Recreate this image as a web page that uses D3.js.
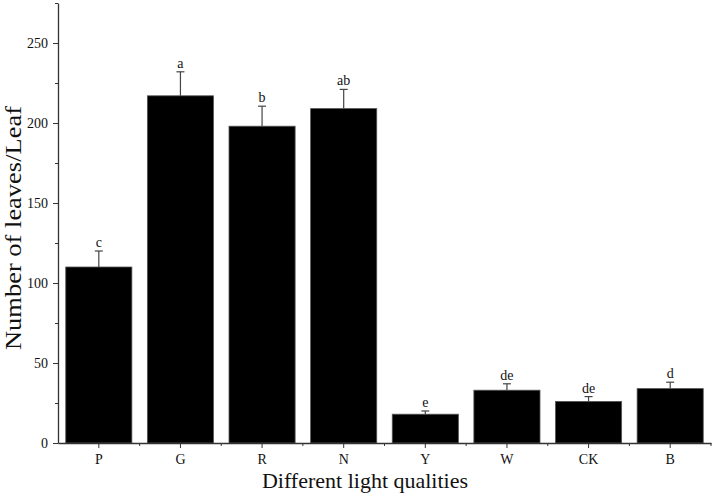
<!DOCTYPE html>
<html>
<head>
<meta charset="utf-8">
<script src="https://cdn.jsdelivr.net/npm/d3@7"></script>
<style>
  body { margin: 0; background: #fff; }
  svg text { font-family: "Liberation Serif", "Times New Roman", serif; fill: #111; }
</style>
</head>
<body>
<svg id="chart-svg" width="715" height="497"></svg>
<script>
// data
var categories = ["P", "G", "R", "N", "Y", "W", "CK", "B"];
var means = [110, 217, 198, 209, 18, 33, 26, 34];
var errors = [10, 15, 12.5, 12, 2, 4, 3, 4];
var letters = ["c", "a", "b", "ab", "e", "de", "de", "d"];
var yTicks = [0, 50, 100, 150, 200, 250];
var yMinorTicks = [25, 75, 125, 175, 225, 275];

var svg = d3.select("#chart-svg");

var x = d3.scaleBand()
    .domain(categories)
    .range([58, 711])
    .paddingInner(0.19)
    .paddingOuter(0.095);

var y = d3.scaleLinear()
    .domain([0, 275])
    .range([443, 3]);

// bars
svg.selectAll(".bar")
    .data(categories)
    .enter()
    .append("rect")
    .attr("class", "bar")
    .attr("x", d => x(d))
    .attr("width", x.bandwidth())
    .attr("y", (d, i) => y(means[i]))
    .attr("height", (d, i) => y(0) - y(means[i]))
    .attr("fill", "#000")
    .attr("stroke", "#555")
    .attr("stroke-width", 0.8);

// error bars (upper only)
var err = svg.selectAll(".err")
    .data(categories)
    .enter()
    .append("g")
    .attr("class", "err")
    .attr("stroke", "#444")
    .attr("stroke-width", 1.2);

err.append("line")
    .attr("x1", d => x(d) + x.bandwidth() / 2)
    .attr("x2", d => x(d) + x.bandwidth() / 2)
    .attr("y1", (d, i) => y(means[i]))
    .attr("y2", (d, i) => y(means[i] + errors[i]));

err.append("line")
    .attr("x1", d => x(d) + x.bandwidth() / 2 - 4)
    .attr("x2", d => x(d) + x.bandwidth() / 2 + 4)
    .attr("y1", (d, i) => y(means[i] + errors[i]))
    .attr("y2", (d, i) => y(means[i] + errors[i]));

// significance letters
svg.selectAll(".letter")
    .data(categories)
    .enter()
    .append("text")
    .attr("class", "letter")
    .attr("x", d => x(d) + x.bandwidth() / 2)
    .attr("y", (d, i) => y(means[i] + errors[i]) - 4)
    .attr("text-anchor", "middle")
    .attr("font-size", 14)
    .text((d, i) => letters[i]);

// y axis
svg.append("g")
    .attr("transform", "translate(58,0)")
    .call(d3.axisLeft(y).tickValues(yTicks).tickSize(5).tickPadding(5).tickSizeOuter(0));

svg.append("g")
    .attr("transform", "translate(58,0)")
    .call(d3.axisLeft(y).tickValues(yMinorTicks).tickSize(3).tickFormat(""))
    .select(".domain").remove();

// x axis
svg.append("g")
    .attr("transform", "translate(0,443)")
    .call(d3.axisBottom(x).tickSize(5).tickPadding(6).tickSizeOuter(0));

// minor ticks at category boundaries
svg.append("g")
    .selectAll("line")
    .data(categories)
    .enter()
    .append("line")
    .attr("x1", d => x(d) + x.bandwidth() + x.step() * x.paddingInner() / 2)
    .attr("x2", d => x(d) + x.bandwidth() + x.step() * x.paddingInner() / 2)
    .attr("y1", 443)
    .attr("y2", 446)
    .attr("stroke", "#333");

svg.selectAll(".domain").attr("stroke", "#333").attr("stroke-width", 1.3);
svg.selectAll(".tick line").attr("stroke", "#333");
svg.selectAll(".tick text")
    .style("font-family", "'Liberation Serif', 'Times New Roman', serif")
    .attr("font-size", 14)
    .attr("fill", "#111");

// axis titles
svg.append("text")
    .attr("x", 365)
    .attr("y", 488)
    .attr("text-anchor", "middle")
    .attr("font-size", 22)
    .text("Different light qualities");

svg.append("text")
    .attr("transform", "translate(21,228) rotate(-90)")
    .attr("text-anchor", "middle")
    .attr("font-size", 24)
    .attr("textLength", 244)
    .attr("lengthAdjust", "spacingAndGlyphs")
    .text("Number of leaves/Leaf");
</script>
</body>
</html>
